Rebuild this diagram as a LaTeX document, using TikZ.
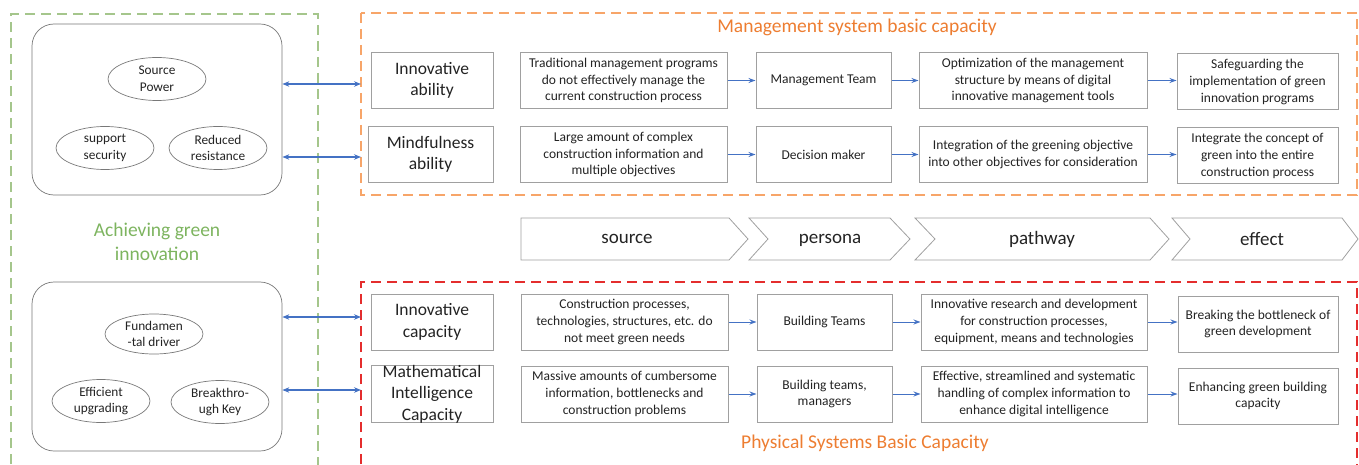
\documentclass[tikz,border=0pt]{standalone}
\usepackage{fontspec}
\setmainfont{Carlito}
\usetikzlibrary{arrows.meta,shapes.geometric}
\definecolor{txt}{RGB}{35,35,35}
\definecolor{boxgray}{RGB}{160,160,160}
\definecolor{rgray}{RGB}{120,120,120}
\definecolor{greendash}{RGB}{165,198,140}
\definecolor{greentxt}{RGB}{125,180,95}
\definecolor{orangedash}{RGB}{247,165,105}
\definecolor{orangetxt}{RGB}{237,125,49}
\definecolor{reddash}{RGB}{228,45,45}
\definecolor{arrblue}{RGB}{68,114,196}
\begin{document}
\begin{tikzpicture}[x=1pt,y=-1pt,
  every node/.style={text=txt},
  cell/.style={draw=boxgray, line width=1pt, inner sep=0pt, align=center, minimum height=56},
  lblbox/.style={cell, minimum width=122, font=\fontsize{17.5}{21.5}\selectfont},
  srcbox/.style={cell, minimum width=207, font=\fontsize{13.5}{16.7}\selectfont},
  perbox/.style={cell, minimum width=135, font=\fontsize{13.5}{16.7}\selectfont},
  pthbox/.style={cell, minimum width=228, font=\fontsize{13.5}{16.7}\selectfont},
  effbox/.style={cell, minimum width=161, font=\fontsize{13.5}{16.7}\selectfont},
  oval/.style={ellipse, draw=rgray, line width=0.7pt, minimum width=98, minimum height=43, inner sep=0pt, align=center, font=\fontsize{13.3}{16.7}\selectfont},
  rbox/.style={draw=rgray, line width=0.7pt, rounded corners=22pt},
  chev/.style={draw=boxgray, line width=0.8pt},
  chevtxt/.style={font=\fontsize{19}{23}\selectfont},
  arr/.style={draw=arrblue, line width=1pt, -{Stealth[length=7pt,width=5pt]}},
  darr/.style={draw=arrblue, line width=1.1pt, {Stealth[length=7pt,width=5.5pt]}-{Stealth[length=7pt,width=5.5pt]}},
  gdash/.style={draw=greendash, line width=1.4pt, dash pattern=on 10pt off 6pt},
  odash/.style={draw=orangedash, line width=1.4pt, dash pattern=on 10pt off 6pt},
  rdash/.style={draw=reddash, line width=1.4pt, dash pattern=on 10pt off 6pt},
  title/.style={font=\fontsize{19.5}{24}\selectfont, align=center}
]
\useasboundingbox (0,0) rectangle (1359,465);
\clip (0,0) rectangle (1359,465);

% dashed frames
\draw[gdash] (11,480) -- (11,14) -- (318,14) -- (318,480);
\draw[odash] (361,13) rectangle (1357,195);
\draw[rdash] (361,480) -- (361,282) -- (1357,282) -- (1357,480);

% left rounded boxes
\node[rbox, minimum width=250, minimum height=171, inner sep=0pt] (rb1) at (157,109.5) {};
\node[rbox, minimum width=250, minimum height=169, inner sep=0pt] (rb2) at (157,366.5) {};

\node[oval] (sp) at (157,79) {Source\\Power};
\node[oval] (ss) at (105,148) {support\\security};
\node[oval] (rr) at (218,148) {Reduced\\resistance};
\node[oval, minimum height=40] (fd) at (154,334) {Fundamen\\-tal driver};
\node[oval] (eu) at (101,401) {Efficient\\upgrading};
\node[oval] (bk) at (220,402) {Breakthro-\\ugh Key};

\node[title, text=greentxt] (agi) at (157,242) {Achieving green\\innovation};

% titles
\node[title, text=orangetxt] (mt) at (857,27) {Management system basic capacity};
\node[title, text=orangetxt] (pt) at (865,443) {Physical Systems Basic Capacity};

% connectors left
\coordinate (a1) at (361,84);
\coordinate (a2) at (361,157);
\coordinate (a3) at (361,317);
\coordinate (a4) at (361,390);
\draw[darr] (rb1.east |- a1) -- (a1);
\draw[darr] (rb1.east |- a2) -- (a2);
\draw[darr] (rb2.east |- a3) -- (a3);
\draw[darr] (rb2.east |- a4) -- (a4);

% row 1
\node[lblbox] (l1) at (432,80.5) {Innovative\\ability};
\node[srcbox] (s1) at (623.5,80.5) {Traditional management programs\\do not effectively manage the\\current construction process};
\node[perbox] (p1) at (823.5,80.5) {Management Team};
\node[pthbox] (w1) at (1033,80.5) {Optimization of the management\\structure by means of digital\\innovative management tools};
\node[effbox] (e1) at (1257.5,82) {Safeguarding the\\implementation of green\\innovation programs};
% row 2
\node[lblbox, minimum width=125] (l2) at (430.5,154.5) {Mindfulness\\ability};
\node[srcbox] (s2) at (623.5,154.5) {Large amount of complex\\construction information and\\multiple objectives};
\node[perbox] (p2) at (823.5,154.5) {Decision maker};
\node[pthbox] (w2) at (1033,154.5) {Integration of the greening objective\\into other objectives for consideration};
\node[effbox] (e2) at (1257.5,156) {Integrate the concept of\\green into the entire\\construction process};
% row 3
\node[lblbox] (l3) at (432,322) {Innovative\\capacity};
\node[srcbox] (s3) at (624.5,322) {Construction processes,\\technologies, structures, etc. do\\not meet green needs};
\node[perbox] (p3) at (824.5,322) {Building Teams};
\node[pthbox, minimum width=226] (w3) at (1034,322) {Innovative research and development\\for construction processes,\\equipment, means and technologies};
\node[effbox, minimum width=160] (e3) at (1258,324) {Breaking the bottleneck of\\green development};
% row 4
\node[lblbox] (l4) at (432,394) {Mathematical\\Intelligence\\Capacity};
\node[srcbox] (s4) at (624.5,394) {Massive amounts of cumbersome\\information, bottlenecks and\\construction problems};
\node[perbox] (p4) at (824.5,394) {Building teams,\\managers};
\node[pthbox, minimum width=226] (w4) at (1034,394) {Effective, streamlined and systematic\\handling of complex information to\\enhance digital intelligence};
\node[effbox, minimum width=160] (e4) at (1258,396) {Enhancing green building\\capacity};

\draw[arr] (s1) -- (p1); \draw[arr] (p1) -- (w1); \draw[arr] (w1.east) -- (e1.west |- w1.east);
\draw[arr] (s2) -- (p2); \draw[arr] (p2) -- (w2); \draw[arr] (w2.east) -- (e2.west |- w2.east);
\draw[arr] (s3) -- (p3); \draw[arr] (p3) -- (w3); \draw[arr] (w3.east) -- (e3.west |- w3.east);
\draw[arr] (s4) -- (p4); \draw[arr] (p4) -- (w4); \draw[arr] (w4.east) -- (e4.west |- w4.east);

% chevrons
\draw[chev] (521,218) -- (729,218) -- (748,239) -- (729,260) -- (521,260) -- cycle;
\draw[chev] (749,218) -- (890,218) -- (910,239) -- (890,260) -- (749,260) -- (768,239) -- cycle;
\draw[chev] (915,218) -- (1150,218) -- (1169,239) -- (1150,260) -- (915,260) -- (935,239) -- cycle;
\draw[chev] (1172,218) -- (1342,218) -- (1358,239) -- (1342,260) -- (1172,260) -- (1190,239) -- cycle;
\node[chevtxt] (c1) at (627,239) {source};
\node[chevtxt] (c2) at (830,240) {persona};
\node[chevtxt] (c3) at (1042,239) {pathway};
\node[chevtxt] (c4) at (1262,239) {effect};
\end{tikzpicture}
\end{document}
